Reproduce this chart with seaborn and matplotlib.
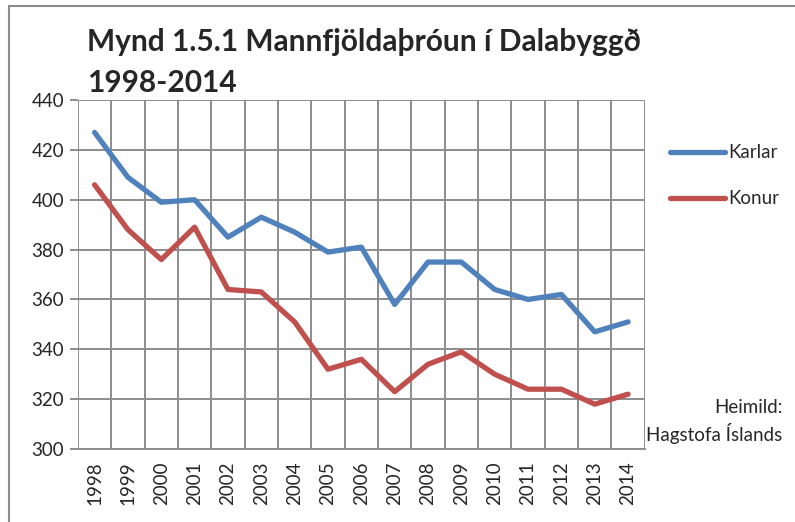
import pandas as pd
import seaborn as sns
import matplotlib.pyplot as plt
from matplotlib.lines import Line2D

sns.set_style("white")
plt.rcParams['font.family'] = ['Lato', 'DejaVu Sans']

# data
years = list(range(1998, 2015))
karlar = [427, 409, 399, 400, 385, 393, 387, 379, 381, 358, 375, 375, 364, 360, 362, 347, 351]
konur = [406, 388, 376, 389, 364, 363, 351, 332, 336, 323, 334, 339, 330, 324, 324, 318, 322]
series = ['Karlar', 'Konur']
colors = ['#4F81BD', '#C0504D']
title = 'Mynd 1.5.1 Mannfjöldaþróun í Dalabyggð\n1998-2014'
source = 'Heimild:\nHagstofa Íslands'

df = pd.DataFrame({'year': years * 2,
                   'value': karlar + konur,
                   'series': ['Karlar'] * len(years) + ['Konur'] * len(years)})

fig = plt.figure(figsize=(7.95, 5.22), dpi=100)
ax = fig.add_axes([0.098, 0.1398, 0.713, 0.6686])

sns.lineplot(data=df, x='year', y='value', hue='series', hue_order=series,
             palette=colors, linewidth=3.8, ax=ax, legend=False,
             solid_capstyle='round', solid_joinstyle='round')

grid_c = '#8c8c8c'
ax.set_xlim(years[0] - 0.5, years[-1] + 0.5)
ax.set_ylim(300, 440)
ax.set_yticks(range(300, 441, 20))
ax.set_xticks(years)
ax.set_xticks([y - 0.5 for y in years] + [years[-1] + 0.5], minor=True)
ax.set_xticklabels([str(y) for y in years], rotation=90)
ax.grid(True, which='minor', axis='x', color=grid_c, linewidth=1.4)
ax.grid(True, which='major', axis='y', color=grid_c, linewidth=1.4)
ax.set_axisbelow(True)
for s in ax.spines.values():
    s.set_visible(False)
ax.spines['bottom'].set_visible(True)
ax.spines['bottom'].set_color(grid_c)
ax.spines['bottom'].set_linewidth(1.4)
ax.tick_params(axis='x', which='major', length=0, labelsize=13.5, pad=9)
ax.tick_params(axis='x', which='minor', length=6, width=1.4, color=grid_c, direction='out')
ax.tick_params(axis='y', length=6, width=1.4, color=grid_c, labelsize=13.5, pad=4, left=True)
ax.set_xlabel('')
ax.set_ylabel('')

handles = [Line2D([0], [0], color=c, linewidth=3.8, solid_capstyle='round') for c in colors]
fig.legend(handles, series, loc='upper left', bbox_to_anchor=(0.822, 0.756),
           frameon=False, fontsize=13.5, handlelength=2.9, handletextpad=0.2,
           labelspacing=1.55)

fig.text(0.109, 0.815, title, fontsize=21.5, fontweight='bold', ha='left',
         va='bottom', linespacing=1.55)
fig.text(0.984, 0.150, source, fontsize=13.5, ha='right', va='bottom',
         multialignment='right', linespacing=1.35)

# outer chart border
fig.add_artist(Line2D([0.011, 0.011], [0, 0.988], color='#8c8c8c', linewidth=1.5,
                      transform=fig.transFigure))
fig.add_artist(Line2D([0.011, 1.0], [0.988, 0.988], color='#8c8c8c', linewidth=1.5,
                      transform=fig.transFigure))

fig.savefig('out.png', dpi=100)
